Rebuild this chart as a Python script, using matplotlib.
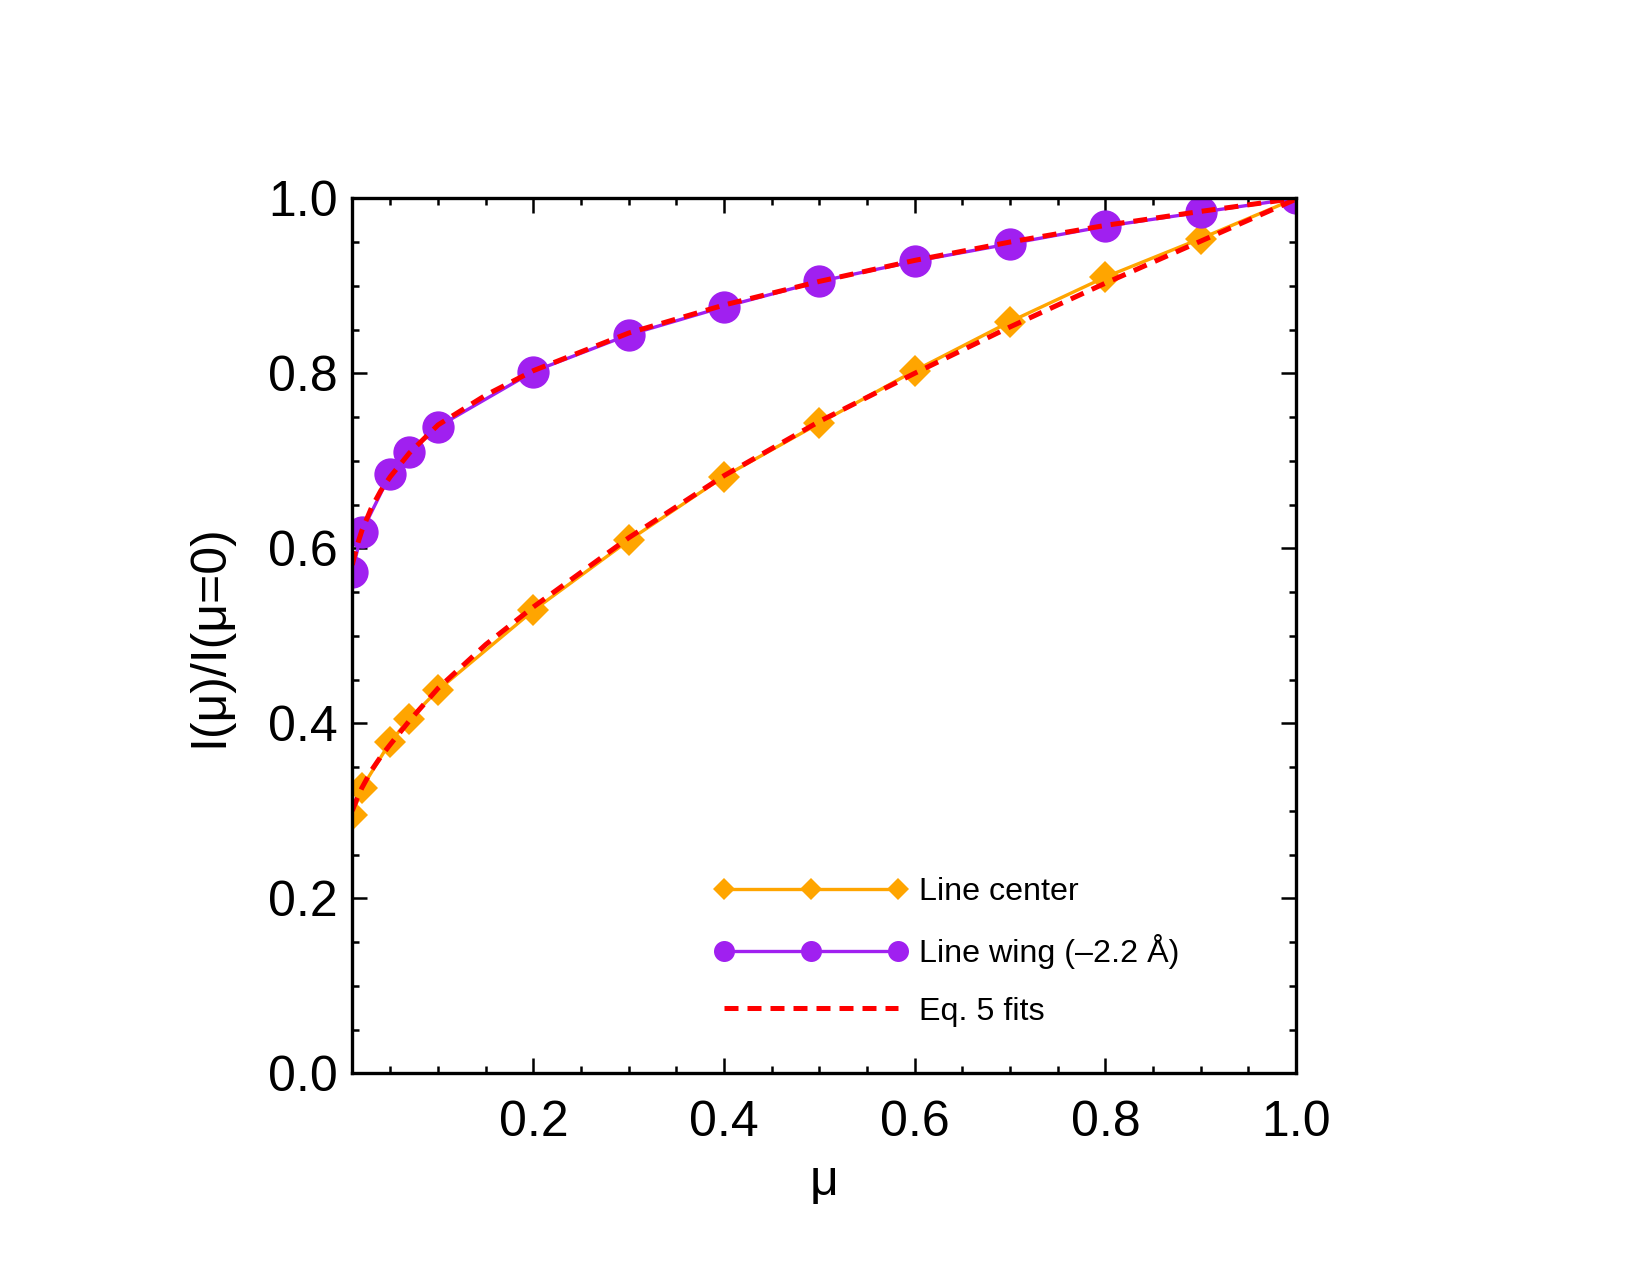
import numpy as np
import matplotlib
matplotlib.use("Agg")
import matplotlib.pyplot as plt
from matplotlib.ticker import MultipleLocator

plt.rcParams['font.family'] = ['Liberation Sans', 'DejaVu Sans']

# mu grid of the measured points
mu = [0.01, 0.02, 0.05, 0.07, 0.1, 0.2, 0.3, 0.4, 0.5, 0.6, 0.7, 0.8, 0.9, 1.0]
center = [0.295, 0.326, 0.379, 0.405, 0.438, 0.529, 0.609, 0.682, 0.743,
          0.803, 0.859, 0.910, 0.954, 1.0]
wing = [0.573, 0.619, 0.685, 0.710, 0.739, 0.802, 0.844, 0.876, 0.905,
        0.928, 0.948, 0.968, 0.984, 1.0]

# Eq. 5 fit curves
mu_fit = [0.01, 0.015, 0.02, 0.03, 0.04, 0.05, 0.07, 0.1, 0.15, 0.2, 0.3,
          0.4, 0.5, 0.6, 0.7, 0.8, 0.9, 1.0]
center_fit = [0.300, 0.314, 0.326, 0.346, 0.362, 0.376, 0.403, 0.440, 0.490,
              0.533, 0.612, 0.683, 0.745, 0.800, 0.853, 0.903, 0.951, 0.999]
wing_fit = [0.581, 0.603, 0.620, 0.646, 0.666, 0.682, 0.709, 0.741, 0.775,
            0.803, 0.846, 0.878, 0.905, 0.929, 0.950, 0.969, 0.985, 1.0]

fig = plt.figure(figsize=(11, 8.5), dpi=150)
ax = fig.add_axes([0.2135, 0.1582, 0.572, 0.6863])

ax.plot(mu, center, color='#FFA500', lw=1.6, marker='D', ms=11, mew=0,
        label='Line center')
ax.plot(mu, wing, color='#A020F0', lw=1.6, marker='o', ms=15.5, mew=0,
        label='Line wing (–2.2 Å)')
ax.plot(mu_fit, center_fit, color='red', lw=2.4, dashes=(2.8, 1.8),
        label='Eq. 5 fits')
ax.plot(mu_fit, wing_fit, color='red', lw=2.4, dashes=(2.8, 1.8))

ax.set_xlim(0.01, 1.0)
ax.set_ylim(0.0, 1.0)
ax.xaxis.set_major_locator(MultipleLocator(0.2))
ax.xaxis.set_minor_locator(MultipleLocator(0.05))
ax.yaxis.set_major_locator(MultipleLocator(0.2))
ax.yaxis.set_minor_locator(MultipleLocator(0.05))
ax.xaxis.set_major_formatter(matplotlib.ticker.FormatStrFormatter('%.1f'))
ax.yaxis.set_major_formatter(matplotlib.ticker.FormatStrFormatter('%.1f'))

for s in ax.spines.values():
    s.set_linewidth(1.6)
ax.tick_params(which='both', direction='in', top=True, right=True, width=1.2)
ax.tick_params(which='major', length=7.2, labelsize=24)
ax.tick_params(which='minor', length=3.4)
ax.tick_params(axis='x', which='major', pad=13)
ax.tick_params(axis='y', which='major', pad=7)

ax.set_xlabel('μ', fontsize=24, labelpad=6)
ax.set_ylabel('I(μ)/I(μ=0)', fontsize=24, labelpad=17)

leg = ax.legend(loc='upper left', bbox_to_anchor=(0.366, 0.243), frameon=False,
                fontsize=15.5, numpoints=3, handlelength=6.0, handletextpad=0.35,
                labelspacing=0.85, markerscale=0.65, borderpad=0)

fig.savefig('out.png', dpi=150)
